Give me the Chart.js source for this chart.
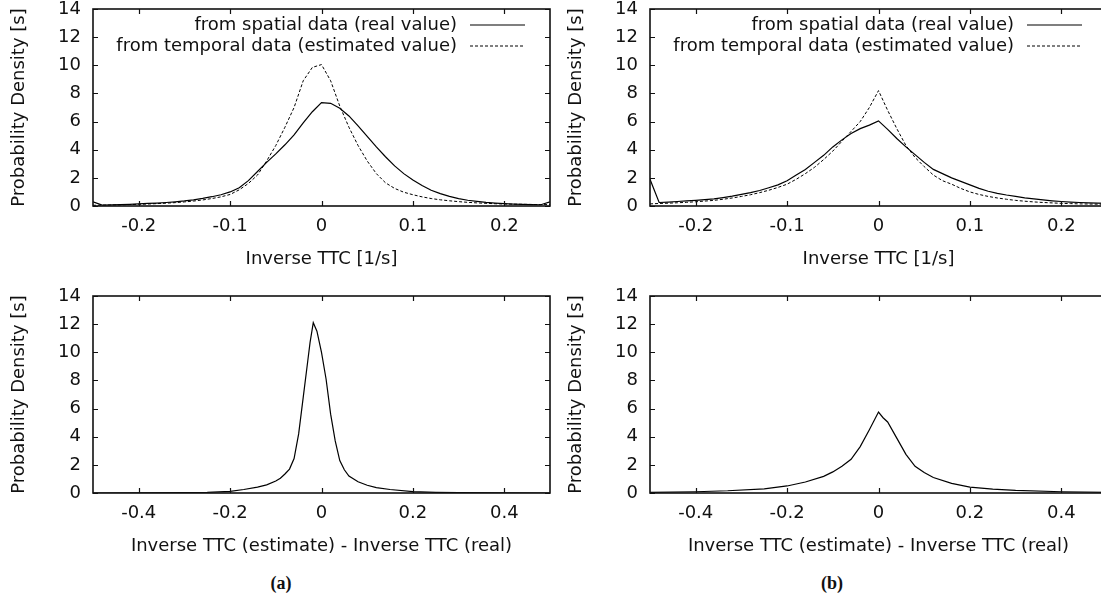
<!DOCTYPE html>
<html>
<head>
<meta charset="utf-8">
<script src="https://cdn.jsdelivr.net/npm/chart.js@4.4.0/dist/chart.umd.min.js"></script>
<style>
  html, body { margin: 0; padding: 0; background: #fff; overflow: hidden; width: 1101px; height: 598px; }
  canvas { position: absolute; display: block; }
  .tag { position: absolute; top: 573px; width: 60px; text-align: center; font: bold 18px "Liberation Serif", "DejaVu Serif", serif; color: #111; }
</style>
</head>
<body>
<canvas id="topA" width="560" height="275" style="left:0;top:0"></canvas>
<canvas id="topB" width="560" height="275" style="left:557px;top:0"></canvas>
<canvas id="botA" width="560" height="275" style="left:0;top:287px"></canvas>
<canvas id="botB" width="560" height="275" style="left:557px;top:287px"></canvas>
<div class="tag" style="left:251px">(a)</div>
<div class="tag" style="left:802px">(b)</div>

<script>
// inverse TTC sample points for the upper plots
const invTTC = [-0.25, -0.24, -0.23, -0.22, -0.21, -0.2, -0.19, -0.18, -0.17, -0.16, -0.15, -0.14, -0.13,
  -0.12, -0.11, -0.1, -0.09, -0.08, -0.07, -0.06, -0.05, -0.04, -0.03, -0.02, -0.01, 0,
  0.01, 0.02, 0.03, 0.04, 0.05, 0.06, 0.07, 0.08, 0.09, 0.1, 0.11, 0.12, 0.13, 0.14, 0.15,
  0.16, 0.17, 0.18, 0.19, 0.2, 0.21, 0.22, 0.23, 0.24, 0.25];

// (a) upper
const spatialA = [0.3, 0.06, 0.08, 0.1, 0.12, 0.15, 0.18, 0.21, 0.25, 0.3, 0.36, 0.44, 0.54,
  0.66, 0.8, 1.0, 1.3, 1.8, 2.45, 3.1, 3.7, 4.35, 5.05, 5.9, 6.7, 7.35,
  7.3, 6.95, 6.4, 5.7, 4.95, 4.2, 3.5, 2.85, 2.3, 1.85, 1.45, 1.12, 0.88, 0.68, 0.52,
  0.41, 0.33, 0.26, 0.21, 0.17, 0.14, 0.12, 0.1, 0.09, 0.3];
const temporalA = [0.05, 0.06, 0.07, 0.08, 0.1, 0.12, 0.14, 0.17, 0.2, 0.24, 0.29, 0.35, 0.43,
  0.53, 0.65, 0.82, 1.15, 1.6, 2.2, 3.2, 4.3, 5.6, 7.0, 8.9, 9.85, 10.05,
  8.9, 7.1, 5.6, 4.3, 3.2, 2.3, 1.65, 1.25, 0.98, 0.8, 0.65, 0.53, 0.44, 0.37, 0.31,
  0.26, 0.22, 0.19, 0.16, 0.14, 0.13, 0.12, 0.11, 0.1, 0.1];

// (b) upper
const spatialB = [1.9, 0.25, 0.28, 0.32, 0.36, 0.4, 0.45, 0.5, 0.6, 0.7, 0.82, 0.95, 1.1,
  1.3, 1.5, 1.8, 2.2, 2.6, 3.1, 3.6, 4.2, 4.7, 5.15, 5.5, 5.75, 6.05,
  5.45, 4.8, 4.2, 3.65, 3.1, 2.6, 2.3, 2.0, 1.75, 1.5, 1.25, 1.05, 0.9, 0.78, 0.68,
  0.58, 0.5, 0.43, 0.37, 0.32, 0.28, 0.25, 0.22, 0.2, 0.18];
const temporalB = [0.15, 0.18, 0.2, 0.23, 0.26, 0.3, 0.35, 0.4, 0.48, 0.57, 0.68, 0.8, 0.95,
  1.12, 1.32, 1.55, 1.9, 2.3, 2.75, 3.3, 3.9, 4.6, 5.3, 6.0, 7.0, 8.2,
  6.8, 5.5, 4.3, 3.45, 2.8, 2.2, 1.8, 1.55, 1.25, 1.0, 0.82, 0.68, 0.57, 0.48, 0.4,
  0.34, 0.29, 0.25, 0.22, 0.19, 0.17, 0.15, 0.14, 0.13, 0.12];

// (a) lower: error of the estimate
const errAx = [-0.5, -0.4, -0.3, -0.25, -0.2, -0.17, -0.14, -0.12, -0.1, -0.09, -0.08, -0.07, -0.06,
  -0.05, -0.04, -0.03, -0.025, -0.018, -0.01, 0, 0.01, 0.02, 0.03, 0.04, 0.05, 0.06, 0.08,
  0.1, 0.12, 0.15, 0.2, 0.25, 0.3, 0.4, 0.5];
const errAy = [0, 0.01, 0.02, 0.05, 0.12, 0.25, 0.42, 0.58, 0.85, 1.05, 1.35, 1.7, 2.45,
  4.2, 6.8, 9.4, 10.7, 12.1, 11.5, 10.0, 8.1, 5.6, 3.7, 2.3, 1.65, 1.2, 0.8,
  0.55, 0.38, 0.25, 0.1, 0.05, 0.02, 0.01, 0];

// (b) lower
const errBx = [-0.5, -0.4, -0.33, -0.25, -0.2, -0.16, -0.12, -0.1, -0.08, -0.06, -0.04, -0.02, 0,
  0.01, 0.02, 0.04, 0.06, 0.08, 0.1, 0.12, 0.16, 0.2, 0.25, 0.3, 0.4, 0.5];
const errBy = [0.05, 0.09, 0.16, 0.3, 0.5, 0.78, 1.18, 1.5, 1.9, 2.4, 3.3, 4.5, 5.75,
  5.35, 5.05, 3.9, 2.75, 1.9, 1.45, 1.1, 0.68, 0.42, 0.27, 0.18, 0.09, 0.05];

const yTicks = [0, 2, 4, 6, 8, 10, 12, 14];
const topXTicks = [-0.2, -0.1, 0, 0.1, 0.2];
const botXTicks = [-0.4, -0.2, 0, 0.2, 0.4];

const FONT = '"DejaVu Sans", "Liberation Sans", Arial, sans-serif';
const INK = '#111';

function pts(xs, ys) {
  return xs.map((x, i) => ({ x: x, y: ys[i] }));
}

// gnuplot style frame with ticks pointing inwards on all sides
const frameTicks = {
  id: 'frameTicks',
  afterDraw(chart) {
    const { ctx, chartArea: a, scales } = chart;
    ctx.save();
    ctx.strokeStyle = INK;
    ctx.lineWidth = 1.2;
    ctx.beginPath();
    scales.x.ticks.forEach(t => {
      const px = Math.round(scales.x.getPixelForValue(t.value)) + 0.5;
      ctx.moveTo(px, a.bottom); ctx.lineTo(px, a.bottom - 5);
      ctx.moveTo(px, a.top); ctx.lineTo(px, a.top + 5);
    });
    scales.y.ticks.forEach(t => {
      const py = Math.round(scales.y.getPixelForValue(t.value)) + 0.5;
      ctx.moveTo(a.left, py); ctx.lineTo(a.left + 5, py);
      ctx.moveTo(a.right, py); ctx.lineTo(a.right - 5, py);
    });
    ctx.stroke();
    ctx.lineWidth = 1.6;
    ctx.strokeRect(a.left, a.top, a.right - a.left, a.bottom - a.top);
    ctx.restore();
  }
};

// key in the top right corner: text right aligned, line sample after it
const keyBox = {
  id: 'keyBox',
  afterDraw(chart, args, opts) {
    if (!opts.show) return;
    const { ctx, chartArea: a } = chart;
    ctx.save();
    ctx.font = '18px ' + FONT;
    ctx.fillStyle = INK;
    ctx.textAlign = 'right';
    ctx.textBaseline = 'middle';
    chart.data.datasets.forEach((ds, i) => {
      const yy = a.top + 16 + i * 21;
      ctx.fillText(ds.label, a.right - 93, yy);
      ctx.strokeStyle = ds.borderColor;
      ctx.lineWidth = ds.borderWidth;
      ctx.setLineDash(ds.borderDash || []);
      ctx.beginPath();
      ctx.moveTo(a.right - 80, yy);
      ctx.lineTo(a.right - 25, yy);
      ctx.stroke();
    });
    ctx.restore();
  }
};

function makePanel(id, datasets, xMin, xMax, xTicks, xTitle, showKey) {
  new Chart(document.getElementById(id), {
    type: 'line',
    data: { datasets: datasets },
    plugins: [frameTicks, keyBox],
    options: {
      responsive: false,
      animation: false,
      layout: { padding: { left: 0, top: 9, right: 10, bottom: 0 } },
      elements: { point: { radius: 0 }, line: { tension: 0 } },
      plugins: {
        legend: { display: false },
        tooltip: { enabled: false },
        keyBox: { show: showKey }
      },
      scales: {
        x: {
          type: 'linear',
          min: xMin,
          max: xMax,
          afterBuildTicks: s => { s.ticks = xTicks.map(v => ({ value: v })); },
          afterFit: s => { s.height = 69; s.paddingLeft = 0; s.paddingRight = 0; },
          grid: { display: false, drawTicks: false },
          border: { display: false },
          ticks: { padding: 10, color: INK, font: { family: FONT, size: 18 } },
          title: { display: true, text: xTitle, color: INK, padding: { top: 0, bottom: 5 }, font: { family: FONT, size: 18 } }
        },
        y: {
          min: 0,
          max: 14,
          afterBuildTicks: s => { s.ticks = yTicks.map(v => ({ value: v })); },
          afterFit: s => { s.width = 93; s.paddingTop = 0; s.paddingBottom = 0; },
          grid: { display: false, drawTicks: false },
          border: { display: false },
          ticks: { padding: 12, color: INK, font: { family: FONT, size: 18 } },
          title: { display: true, text: 'Probability Density [s]', color: INK, padding: { top: 9, bottom: 0 }, font: { family: FONT, size: 18 } }
        }
      }
    }
  });
}

function solid(label, data) {
  return { label: label, data: data, borderColor: '#000', borderWidth: 1.2, fill: false };
}
function dashed(label, data) {
  return { label: label, data: data, borderColor: '#000', borderWidth: 1, borderDash: [3, 2], fill: false };
}

const realLabel = 'from spatial data (real value)';
const estLabel = 'from temporal data (estimated value)';
const errTitle = 'Inverse TTC (estimate) - Inverse TTC (real)';

makePanel('topA', [solid(realLabel, pts(invTTC, spatialA)), dashed(estLabel, pts(invTTC, temporalA))],
  -0.25, 0.25, topXTicks, 'Inverse TTC [1/s]', true);
makePanel('topB', [solid(realLabel, pts(invTTC, spatialB)), dashed(estLabel, pts(invTTC, temporalB))],
  -0.25, 0.25, topXTicks, 'Inverse TTC [1/s]', true);
makePanel('botA', [solid('error', pts(errAx, errAy))], -0.5, 0.5, botXTicks, errTitle, false);
makePanel('botB', [solid('error', pts(errBx, errBy))], -0.5, 0.5, botXTicks, errTitle, false);
</script>
</body>
</html>
